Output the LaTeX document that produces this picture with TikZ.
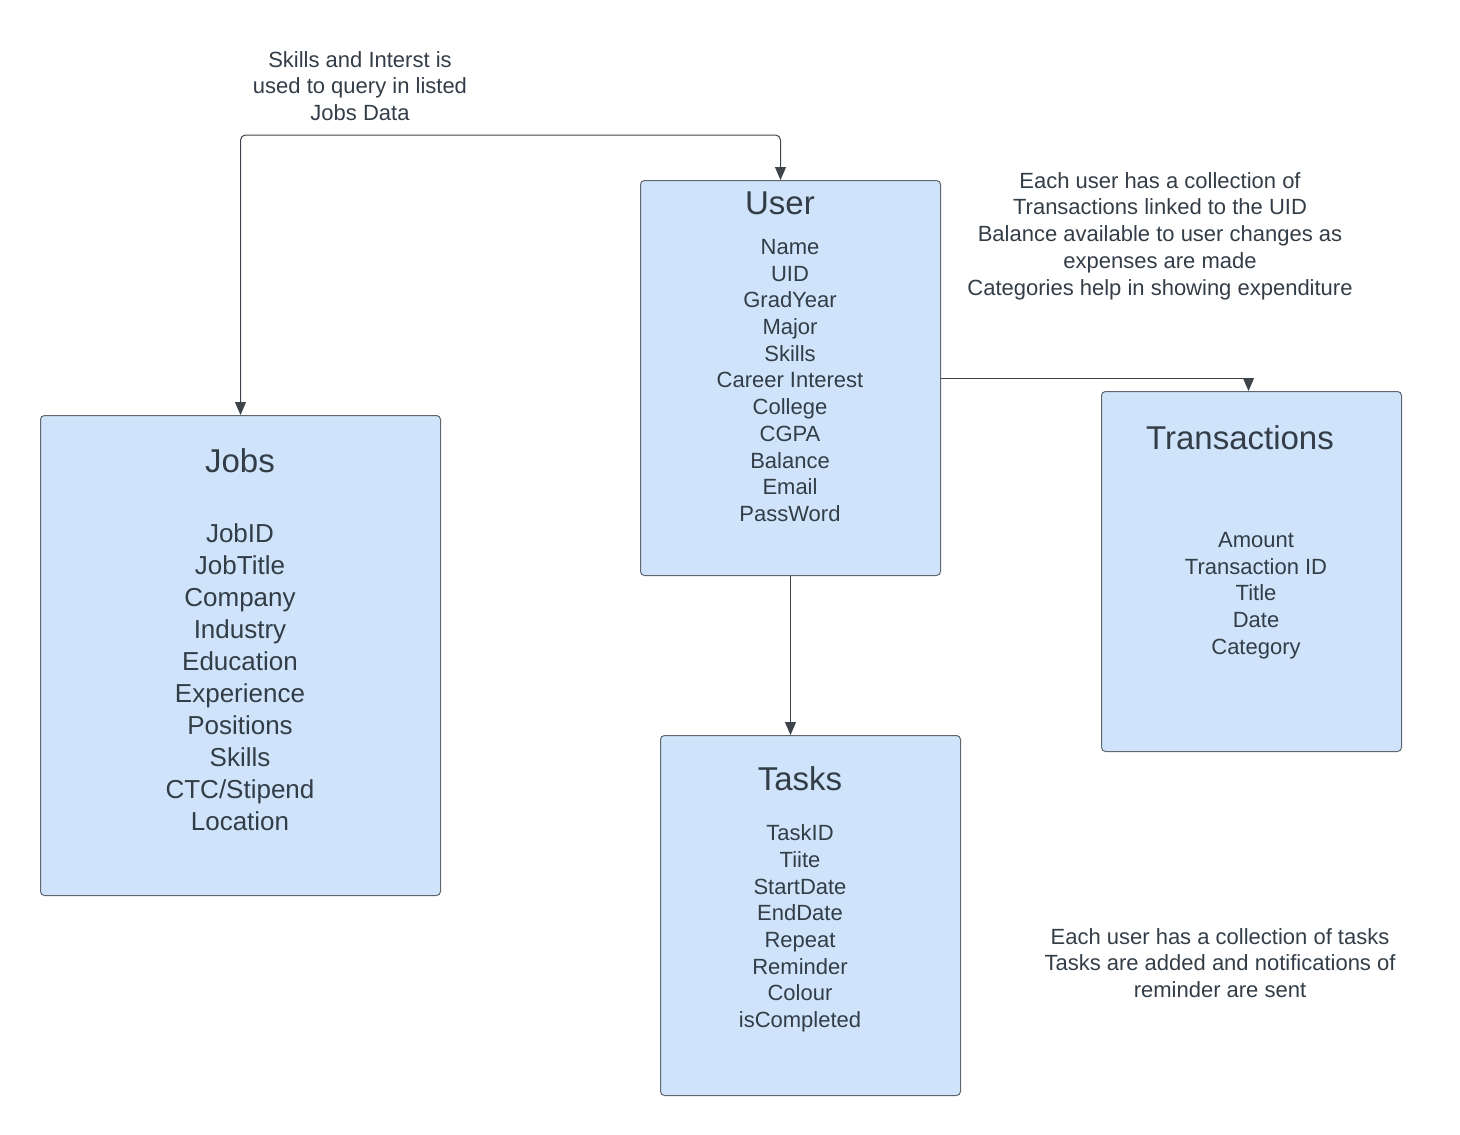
\documentclass[tikz,border=0pt]{standalone}
\usepackage{fontspec}
\setmainfont{Liberation Sans}
\usetikzlibrary{arrows.meta}
\definecolor{chu}{RGB}{51,61,71}
\definecolor{nen}{RGB}{207,228,250}
\definecolor{vien}{RGB}{94,102,112}
\definecolor{day}{RGB}{61,68,76}
\begin{document}
\begin{tikzpicture}[x=1pt,y=-1pt,
	khoi/.style={draw=vien, fill=nen, line width=1pt, rounded corners=4pt, inner sep=0pt, anchor=north west},
	tieude/.style={text=chu, inner sep=0pt, font=\fontsize{33}{40}\selectfont},
	truong/.style={text=chu, inner sep=0pt, align=center, font=\fontsize{22}{26.7}\selectfont},
	truonglon/.style={text=chu, inner sep=0pt, align=center, font=\fontsize{26}{32}\selectfont},
	noi/.style={draw=day, line width=1pt, -{Triangle[length=13pt,width=11pt]}}]
	\useasboundingbox (0,0) rectangle (1460,1135);
	
	% Các khối
	\node[khoi, minimum width=300pt, minimum height=395pt] (User) at (640,180) {};
	\node[khoi, minimum width=400pt, minimum height=480pt] (Jobs) at (40,415) {};
	\node[khoi, minimum width=300pt, minimum height=360pt] (Trans) at (1101,391) {};
	\node[khoi, minimum width=300pt, minimum height=360pt] (Tasks) at (660,735) {};
	
	% Tiêu đề và các trường
	\node[tieude] (UserT) at (780,203) {User};
	\node[truong] (UserF) at (790,380.5) {Name\\UID\\GradYear\\Major\\Skills\\Career Interest\\College\\CGPA\\Balance\\Email\\PassWord};
	\node[tieude] (JobsT) at (240,461) {Jobs};
	\node[truonglon] (JobsF) at (240,677) {JobID\\JobTitle\\Company\\Industry\\Education\\Experience\\Positions\\Skills\\CTC/Stipend\\Location};
	\node[tieude] (TransT) at (1240,438) {Transactions};
	\node[truong] (TransF) at (1256,595.5) {Amount\\Transaction ID\\Title\\Date\\Category};
	\node[tieude] (TasksT) at (800,779) {Tasks};
	\node[truong] (TasksF) at (800,928.5) {TaskID\\Tiite\\StartDate\\EndDate\\Repeat\\Reminder\\Colour\\isCompleted};
	
	% Ghi chú
	\node[truong] (GhiChu1) at (360,86) {Skills and Interst is\\used to query in listed\\Jobs Data};
	\node[truong] (GhiChu2) at (1160,236) {Each user has a collection of\\Transactions linked to the UID\\Balance available to user changes as\\expenses are made\\Categories help in showing expenditure};
	\node[truong] (GhiChu3) at (1220,963) {Each user has a collection of tasks\\Tasks are added and notifications of\\reminder are sent};
	
	% Các mũi tên
	\draw[noi, {Triangle[length=13pt,width=11pt]}-{Triangle[length=13pt,width=11pt]}, rounded corners=5pt] (Jobs.north) -- ++(0,-280) -| ([xshift=-10pt]User.north);
	\draw[noi] (User.east) -| ([xshift=-3pt]Trans.north);
	\draw[noi] (User.south) -- (User.south |- Tasks.north);
\end{tikzpicture}
\end{document}
